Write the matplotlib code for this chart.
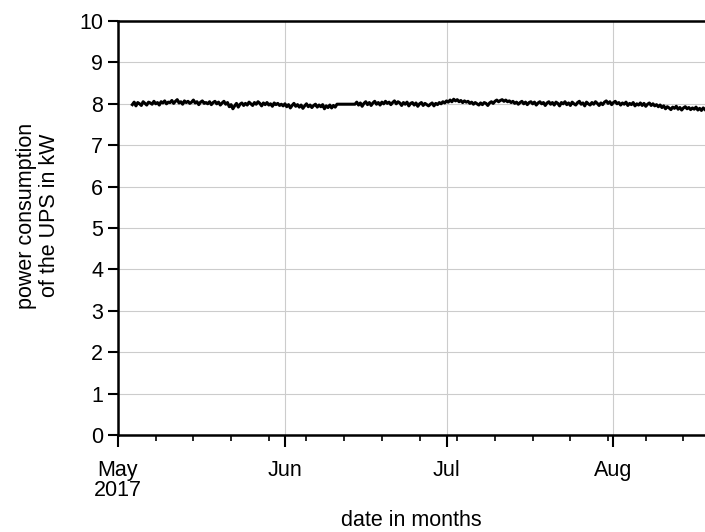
import numpy as np
import pandas as pd
import matplotlib
matplotlib.use("Agg")
import matplotlib.pyplot as plt
import matplotlib.dates as mdates

plt.rcParams['font.family'] = ['Liberation Sans', 'DejaVu Sans']

# UPS power draw in kW, 8-hourly samples; logging was down Jun 10 - Jun 14
start_a = "2017-05-03 16:00"
power_a = [
    7.98, 8.04, 7.95, 8.03, 8.00, 7.96, 8.05, 8.01, 7.97, 8.04, 8.02, 7.99, 8.06, 8.00, 8.03, 7.97, 8.05, 8.02, 8.07, 8.00, 8.04,
    8.03, 8.08, 8.01, 8.06, 8.10, 8.02, 8.05, 7.99, 8.07, 8.03, 8.06, 8.01, 8.04, 8.09, 8.02, 8.05, 7.98, 8.04, 8.07, 8.01, 8.03,
    8.00, 8.05, 7.98, 8.03, 8.06, 8.00, 8.04, 7.97, 8.02, 8.06, 7.99, 8.03, 7.93, 7.98, 7.88, 7.95, 8.01, 7.92, 7.99, 8.02, 7.96,
    8.01, 7.97, 8.04, 8.00, 7.96, 8.03, 7.99, 8.05, 8.01, 7.95, 8.02, 7.98, 8.03, 7.97, 8.00, 7.94, 8.02, 7.98, 8.01, 7.96, 7.99,
    7.95, 8.00, 7.93, 7.98, 7.90, 7.96, 8.01, 7.94, 7.98, 7.92, 7.97, 7.89, 7.95, 8.00, 7.93, 7.97, 7.91, 7.96, 7.99, 7.92, 7.97,
    7.93, 7.98, 7.88, 7.95, 7.91, 7.97, 7.90, 7.96, 7.92, 7.99,
]
start_b = "2017-06-14 00:00"
power_b = [
    7.99, 8.04, 7.97, 8.02, 7.94, 8.01, 8.05, 7.98, 8.03, 7.96, 8.02, 8.06, 7.99, 8.03, 7.97, 8.04, 8.00, 8.06, 8.01, 8.04, 7.98,
    8.03, 8.07, 8.00, 8.05, 8.02, 7.96, 8.03, 7.99, 8.04, 7.95, 8.01, 8.03, 7.97, 8.02, 7.94, 8.00, 8.03, 7.96, 8.01, 7.98, 7.95,
    7.99, 8.02, 7.95, 8.01, 7.98, 8.03, 8.00, 8.05, 8.02, 8.07, 8.04, 8.09, 8.05, 8.11, 8.07, 8.10, 8.05, 8.08, 8.03, 8.07, 8.04,
    8.06, 8.01, 8.04, 7.99, 8.03, 8.00, 7.97, 8.02, 7.98, 8.03, 8.01, 7.96, 8.02, 8.05, 8.01, 8.06, 8.09, 8.05, 8.08, 8.10, 8.06,
    8.09, 8.05, 8.07, 8.03, 8.06, 8.01, 8.04, 7.99, 8.03, 8.06, 8.00, 8.04, 7.98, 8.03, 8.05, 8.00, 8.04, 7.97, 8.02, 8.05, 8.00,
    8.03, 7.96, 8.02, 8.05, 7.99, 8.03, 7.97, 8.04, 8.01, 7.95, 8.03, 8.00, 8.05, 7.98, 8.02, 7.96, 8.04, 8.00, 7.97, 8.03, 8.06,
    7.99, 8.02, 7.95, 8.04, 8.00, 7.97, 8.03, 7.99, 8.05, 8.01, 7.96, 8.02, 7.98, 8.04, 8.07, 8.01, 8.05, 7.98, 8.03, 8.06, 8.00,
    8.03, 7.97, 8.02, 7.99, 8.04, 7.96, 8.01, 7.98, 8.03, 7.95, 8.00, 7.97, 8.02, 7.96, 8.01, 7.94, 7.99, 8.02, 7.96, 8.00, 7.95,
    7.98, 7.93, 7.97, 7.91, 7.95, 7.88, 7.93, 7.90, 7.86, 7.92, 7.89, 7.94, 7.87, 7.91, 7.85, 7.90, 7.93, 7.88, 7.91, 7.86, 7.90,
    7.87, 7.92, 7.85, 7.89, 7.84, 7.90, 7.86,
]

month_ticks = ["2017-05-01", "2017-06-01", "2017-07-01", "2017-08-01"]
month_labels = ["May\n2017", "Jun", "Jul", "Aug"]
x_range = ["2017-05-01", "2017-08-18"]

t_a = pd.date_range(start_a, periods=len(power_a), freq="8h")
t_b = pd.date_range(start_b, periods=len(power_b), freq="8h")
t = t_a.append(t_b)
p = np.array(power_a + power_b)

fig = plt.figure(figsize=(7.05, 5.32), dpi=100)
ax = fig.add_axes([118/705, 97/532, 1 - 118/705, 414/532])

ax.plot(t, p, color="black", lw=2.2)

ax.set_xlim(pd.Timestamp(x_range[0]), pd.Timestamp(x_range[1]))
ax.set_ylim(0, 10)
ax.set_yticks(range(0, 11))
ax.set_xticks(pd.to_datetime(month_ticks))
ax.set_xticklabels(month_labels, linespacing=0.95)
ax.xaxis.set_minor_locator(mdates.WeekdayLocator(byweekday=mdates.MO))

ax.grid(True, which="major", color="#cccccc", lw=0.8)
ax.set_axisbelow(True)

for side in ["left", "bottom", "top"]:
    ax.spines[side].set_linewidth(1.8)
ax.spines["right"].set_visible(False)

ax.tick_params(which="major", direction="out", length=7.2, width=1.5, labelsize=15.5, pad=3.5)
ax.tick_params(which="minor", direction="out", length=4.3, width=1.2)
ax.tick_params(axis="x", which="major", length=8.6, pad=9.5)

ax.set_ylabel("power consumption\nof the UPS in kW", fontsize=15.5, linespacing=1.1)
ax.yaxis.set_label_coords(-0.099, 0.53)
ax.set_xlabel("date in months", fontsize=15.5, labelpad=6)

fig.savefig("out.png", dpi=100)
